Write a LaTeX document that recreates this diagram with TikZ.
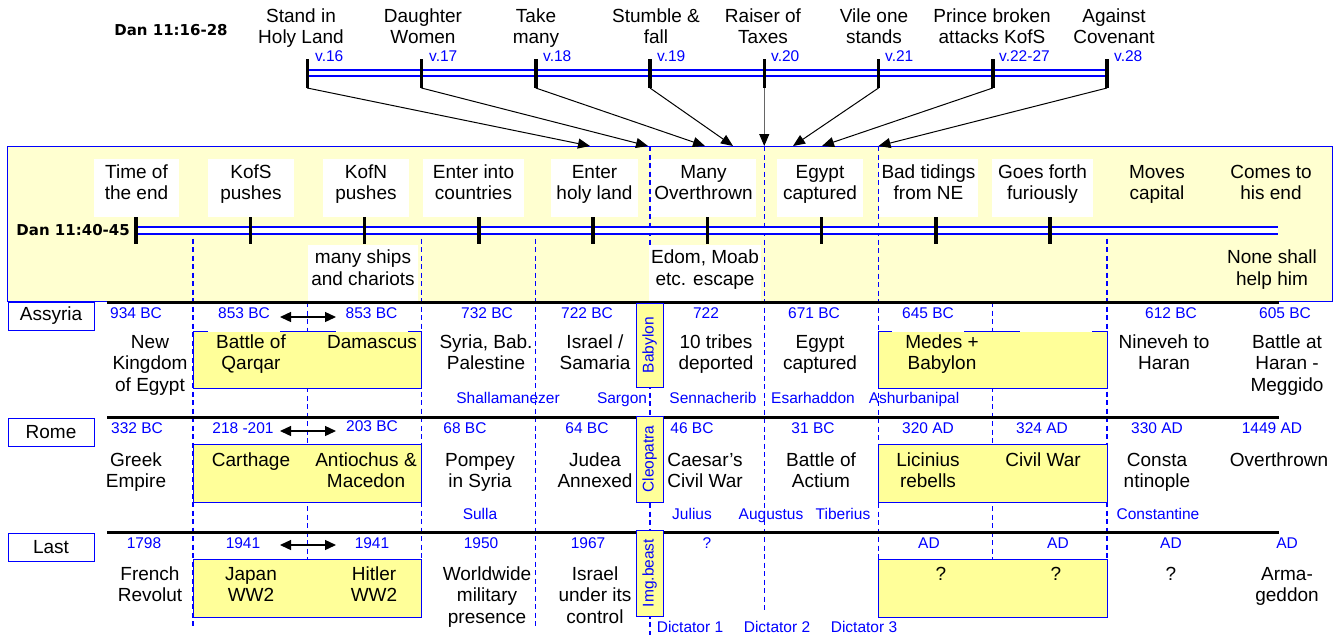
\documentclass[tikz,border=0pt]{standalone}
\usepackage{fontspec}
\setmainfont{Liberation Sans}
\newfontfamily\dvsans{DejaVu Sans}
\usetikzlibrary{arrows.meta}
\definecolor{bandY}{RGB}{255,255,208}
\definecolor{boxY}{RGB}{255,255,153}
\definecolor{bl}{RGB}{0,0,255}
\newcommand\fmain{\fontsize{19}{21.5}\selectfont}
\newcommand\fblue{\fontsize{15.5}{18}\selectfont}
\newcommand\fbold{\dvsans\bfseries\fontsize{15}{18}\selectfont}
\begin{document}
\begin{tikzpicture}[x=1pt,y=-1pt,
 txt/.style={font=\fmain,align=center,inner sep=0pt,anchor=base},
 btx/.style={font=\fblue,text=bl,inner sep=0pt,anchor=base},
 wbox/.style={txt,fill=white,inner xsep=2pt,text height=40.5pt,text depth=17.5pt},
 wboxl/.style={txt,fill=white,inner xsep=2pt,text height=40pt,text depth=15.5pt},
 wdate/.style={btx,fill=white,minimum width=72pt,text height=13pt,text depth=13.5pt},
 rowlab/.style={draw=bl,fill=white,line width=1pt,minimum width=86pt,minimum height=28pt,inner sep=0pt,font=\fmain},
 vbox/.style={draw=bl,fill=boxY,line width=1pt,rotate=90,minimum height=27pt,inner sep=0pt,font=\fblue,text=bl},
 ybox/.style={draw=bl,fill=boxY,line width=1pt},
 dsh/.style={bl,line width=1.1pt,dash pattern=on 5pt off 3.5pt},
 rowline/.style={black,line width=3pt},
 tlt/.style={draw=bl,line width=2pt,double=white,double distance=4pt},
 tlb/.style={draw=bl,line width=2.5pt,double=white,double distance=4.5pt},
 tk/.style={black,line width=3.5pt},
 arr/.style={black,line width=1pt,-{Triangle[length=12pt,width=10pt]}},
 dbl/.style={black,line width=1.3pt,{Triangle[length=11pt,width=10pt]}-{Triangle[length=11pt,width=10pt]}},
]
\useasboundingbox (0,0) rectangle (1338,635);

% ---------- band ----------
\draw[bl,fill=bandY,line width=1pt] (7,146) rectangle (1332,301);

% ---------- dashed column lines ----------
\draw[dsh] (193,230) -- (193,628);
\draw[dsh] (307.25,302) -- (307.25,615);
\draw[dsh] (421.5,230) -- (421.5,615);
\draw[dsh] (535.75,230) -- (535.75,628);
\draw[dsh] (650,146) -- (650,635);
\draw[dsh] (764.25,146) -- (764.25,613);
\draw[dsh] (878.5,146) -- (878.5,615);
\draw[dsh] (992.75,302) -- (992.75,615);
\draw[dsh] (1107,230) -- (1107,615);

% ---------- yellow boxes ----------
\draw[ybox] (193,331) rectangle (421.5,388);
\draw[ybox] (878.5,331) rectangle (1107,388);
\draw[ybox] (193,444) rectangle (421.5,502);
\draw[ybox] (878.5,444) rectangle (1107,502);
\draw[ybox] (193,559) rectangle (421.5,617);
\draw[ybox] (878.5,559) rectangle (1107,617);

% ---------- row lines ----------
\draw[rowline] (107,302) -- (1279,302);
\draw[rowline] (107,417) -- (1279,417);
\draw[rowline] (107,532) -- (1279,532);

% ---------- band timeline ----------
\draw[tlb] (136,230.5) -- (1278,230.5);
\foreach \x in {136,250.25,364.5,478.75,593,707.25,821.5,935.75,1050}
  \draw[tk] (\x,216) -- (\x,244);
\node[txt,font=\fbold,anchor=base east] (dan2) at (130,235) {Dan 11:40-45};

\node[wbox,minimum width=85pt] (b1) at (136.5,199.5) {Time of\\the end};
\node[wbox,minimum width=86pt] (b2) at (251,199.5) {KofS\\pushes};
\node[wbox,minimum width=86pt] (b3) at (366,199.5) {KofN\\pushes};
\node[wbox,minimum width=101pt] (b4) at (473.5,199.5) {Enter into\\countries};
\node[wbox,minimum width=87pt] (b5) at (594.5,199.5) {Enter\\holy land};
\node[wbox,minimum width=105pt] (b6) at (703.5,199.5) {Many\\Overthrown};
\node[wbox,minimum width=86pt] (b7) at (820,199.5) {Egypt\\captured};
\node[wbox,minimum width=99pt] (b8) at (928.5,199.5) {Bad tidings\\from NE};
\node[wbox,minimum width=101pt] (b9) at (1042.5,199.5) {Goes forth\\furiously};
\node[txt] (b10) at (1157,199.5) {Moves\\capital};
\node[txt] (b11) at (1271,199.5) {Comes to\\his end};
\node[wboxl,minimum width=110pt] (c1) at (363,285) {many ships\\and chariots};
\node[wboxl,minimum width=110pt] (c2) at (705,285) {Edom, Moab\\etc. escape};
\node[txt] (c3) at (1272,285) {None shall\\help him};

% ---------- top timeline ----------
\node[txt,font=\fbold] (dan1) at (171,35) {Dan 11:16-28};
\draw[tlt] (307.25,73) -- (1107,73);
\foreach \i/\x in {1/307.25,2/421.5,3/535.75,4/650,5/764.25,6/878.5,7/992.75,8/1107}{
  \draw[tk] (\x,59) -- (\x,88);
  \coordinate (k\i) at (\x,88);
}
\node[txt] (h1) at (301,43.5) {Stand in\\Holy Land};
\node[txt] (h2) at (423,43.5) {Daughter\\Women};
\node[txt] (h3) at (536,43.5) {Take\\many};
\node[txt] (h4) at (656,43.5) {Stumble \&\\fall};
\node[txt] (h5) at (763,43.5) {Raiser of\\Taxes};
\node[txt] (h6) at (874,43.5) {Vile one\\stands};
\node[txt] (h7) at (992,43.5) {Prince broken\\attacks KofS};
\node[txt] (h8) at (1114,43.5) {Against\\Covenant};
\node[btx,anchor=base west] (v1) at (315,61) {v.16};
\node[btx,anchor=base west] (v2) at (429,61) {v.17};
\node[btx,anchor=base west] (v3) at (543,61) {v.18};
\node[btx,anchor=base west] (v4) at (657,61) {v.19};
\node[btx,anchor=base west] (v5) at (771,61) {v.20};
\node[btx,anchor=base west] (v6) at (885,61) {v.21};
\node[btx,anchor=base west] (v7) at (999,61) {v.22-27};
\node[btx,anchor=base west] (v8) at (1114,61) {v.28};

\coordinate (e1) at (590,146);
\coordinate (e2) at (648,146);
\coordinate (e3) at (705,146);
\coordinate (e4) at (733,146);
\coordinate (e5) at (764.25,146);
\coordinate (e6) at (793,146);
\coordinate (e7) at (822,146);
\coordinate (e8) at (878.5,146);
\foreach \i in {1,2,3,4,6,7,8} \draw[arr] (k\i) -- (e\i);
\draw[arr,draw=black!60,-{Triangle[length=12pt,width=10pt,color=black]}] (k5) -- (e5);

% ---------- row labels ----------
\node[rowlab] (rA) at (51,316) {Assyria};
\node[rowlab] (rR) at (51,432) {Rome};
\node[rowlab] (rL) at (51,547) {Last};

% ---------- Assyria ----------
\node[btx] (a1) at (136,318) {934 BC};
\node[wdate] (a2) at (244,318) {853 BC};
\node[wdate] (a3) at (371.5,318) {853 BC};
\node[btx] (a4) at (487,318) {732 BC};
\node[btx] (a5) at (587,318) {722 BC};
\node[btx] (a6) at (706,318) {722};
\node[btx] (a7) at (814,318) {671 BC};
\node[wdate] (a8) at (928,318) {645 BC};
\node[wdate] (a9) at (1056,318) {};
\node[btx] (a10) at (1171,318) {612 BC};
\node[btx] (a11) at (1285,318) {605 BC};
\coordinate (aL) at (280,317);
\coordinate (aR) at (336,317);
\draw[dbl] (aL) -- (aR);

\node[txt] (at1) at (150,391) {New\\Kingdom\\of Egypt};
\node[txt] (at2) at (251,369.5) {Battle of\\Qarqar};
\node[txt] (at3) at (372,348) {Damascus};
\node[txt] (at4) at (486,369.5) {Syria, Bab.\\Palestine};
\node[txt] (at5) at (595,369.5) {Israel /\\Samaria};
\node[txt] (at6) at (716,369.5) {10 tribes\\deported};
\node[txt] (at7) at (820,369.5) {Egypt\\captured};
\node[txt] (at8) at (942,369.5) {Medes +\\Babylon};
\node[txt] (at9) at (1164,369.5) {Nineveh to\\Haran};
\node[txt] (at10) at (1287,391) {Battle at\\Haran -\\Meggido};

\node[btx] (an1) at (508,403) {Shallamanezer};
\node[btx] (an2) at (622,403) {Sargon};
\node[btx] (an3) at (713,403) {Sennacherib};
\node[btx] (an4) at (813,403) {Esarhaddon};
\node[btx] (an5) at (914,403) {Ashurbanipal};

% ---------- Rome ----------
\node[btx] (r1) at (137,433) {332 BC};
\node[btx] (r2) at (243,433) {218 -201};
\node[btx] (r3) at (372,431) {203 BC};
\node[btx] (r4) at (465,433) {68 BC};
\node[btx] (r5) at (587,433) {64 BC};
\node[btx] (r6) at (692,433) {46 BC};
\node[btx] (r7) at (813,433) {31 BC};
\node[btx] (r8) at (928,433) {320 AD};
\node[btx] (r9) at (1042,433) {324 AD};
\node[btx] (r10) at (1157,433) {330 AD};
\node[btx] (r11) at (1272,433) {1449 AD};
\coordinate (rL1) at (280,431);
\coordinate (rR1) at (336,431);
\draw[dbl] (rL1) -- (rR1);

\node[txt] (rt1) at (136,487.5) {Greek\\Empire};
\node[txt] (rt2) at (251,466) {Carthage};
\node[txt] (rt3) at (366,487.5) {Antiochus \&\\Macedon};
\node[txt] (rt4) at (480,487.5) {Pompey\\in Syria};
\node[txt] (rt5) at (595,487.5) {Judea\\Annexed};
\node[txt] (rt6) at (705,487.5) {Caesar's\\Civil War};
\node[txt] (rt7) at (821,487.5) {Battle of\\Actium};
\node[txt] (rt8) at (928,487.5) {Licinius\\rebells};
\node[txt] (rt9) at (1043,466) {Civil War};
\node[txt] (rt10) at (1157,487.5) {Consta\\ntinople};
\node[txt] (rt11) at (1279,466) {Overthrown};

\node[btx] (rn1) at (480,519) {Sulla};
\node[btx] (rn2) at (692,519) {Julius};
\node[btx] (rn3) at (771,519) {Augustus};
\node[btx] (rn4) at (843,519) {Tiberius};
\node[btx] (rn5) at (1158,519) {Constantine};

% ---------- Last ----------
\node[btx] (l1) at (144,548) {1798};
\node[btx] (l2) at (243,548) {1941};
\node[btx] (l3) at (372,548) {1941};
\node[btx] (l4) at (481,548) {1950};
\node[btx] (l5) at (588,548) {1967};
\node[btx] (l6) at (707,548) {?};
\node[btx] (l7) at (929,548) {AD};
\node[btx] (l8) at (1058,548) {AD};
\node[btx] (l9) at (1171,548) {AD};
\node[btx] (l10) at (1287,548) {AD};
\coordinate (lL1) at (280,545);
\coordinate (lR1) at (336,545);
\draw[dbl] (lL1) -- (lR1);

\node[txt] (lt1) at (150,601.5) {French\\Revolut};
\node[txt] (lt2) at (251,601.5) {Japan\\WW2};
\node[txt] (lt3) at (374,601.5) {Hitler\\WW2};
\node[txt] (lt4) at (487,623) {Worldwide\\military\\presence};
\node[txt] (lt5) at (595,623) {Israel\\under its\\control};
\node[txt] (lt6) at (941,580) {?};
\node[txt] (lt7) at (1056,580) {?};
\node[txt] (lt8) at (1171,580) {?};
\node[txt] (lt9) at (1287,601.5) {Arma-\\geddon};

\node[btx] (ln1) at (690,632) {Dictator 1};
\node[btx] (ln2) at (777,632) {Dictator 2};
\node[btx] (ln3) at (864,632) {Dictator 3};

% ---------- vertical boxes ----------
\node[vbox,minimum width=84pt] (vb1) at (649.5,345) {Babylon};
\node[vbox,minimum width=86pt] (vb2) at (649.5,459) {Cleopatra};
\node[vbox,minimum width=86pt] (vb3) at (649.5,573) {Img.beast};
\end{tikzpicture}
\end{document}
